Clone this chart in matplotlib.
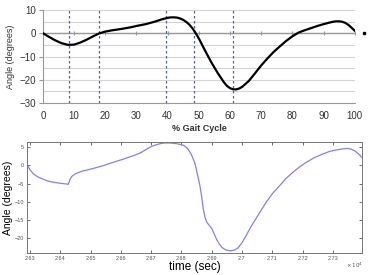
import matplotlib.pyplot as plt
from matplotlib.ticker import FuncFormatter

plt.rcParams['font.family'] = ['Liberation Sans', 'DejaVu Sans']

# top chart: angle over the gait cycle
gait_pct = [0, 2, 4, 6, 8, 10, 12, 14, 16, 18, 20, 22, 25, 28, 30, 33, 36, 38, 40, 41, 42,
            43, 44, 45, 46, 47, 48, 49, 50, 52, 54, 56, 58, 59, 60, 61, 62, 63, 64, 66, 68,
            70, 72, 74, 76, 78, 80, 82, 84, 86, 88, 90, 92, 93, 94, 95, 96, 97, 98, 99, 100]
gait_angle = [0, -1.6, -3.1, -4.3, -5.0, -4.9, -4.0, -2.8, -1.4, -0.1, 0.7, 1.2, 1.8, 2.5,
              3.1, 3.9, 5.0, 5.9, 6.6, 6.8, 6.8, 6.7, 6.3, 5.7, 4.8, 3.6, 2.0, 0.0, -2.3,
              -7.5, -12.5, -17.0, -21.0, -22.6, -23.6, -24.1, -24.1, -23.7, -22.9, -20.5,
              -17.2, -13.8, -10.8, -8.0, -5.6, -3.3, -1.3, 0.3, 1.3, 2.2, 3.1, 3.9, 4.6,
              4.9, 5.1, 5.1, 4.9, 4.4, 3.5, 2.3, 1.0]
event_pct = [8.5, 18, 39.5, 48.5, 61]

# bottom chart: angle over time (sec)
time_s = [26292, 26300, 26311, 26325, 26344, 26360, 26377, 26400, 26421, 26426, 26429,
          26432, 26438, 26449, 26470, 26490, 26509, 26540, 26575, 26610, 26641, 26665,
          26685, 26705, 26729, 26745, 26762, 26785, 26806, 26815, 26822, 26833, 26845,
          26853, 26861, 26867, 26872, 26877, 26883, 26890, 26900, 26908, 26916, 26925,
          26933, 26945, 26960, 26975, 26987, 27000, 27015, 27030, 27048, 27065, 27081,
          27100, 27125, 27145, 27169, 27190, 27213, 27240, 27268, 27290, 27312, 27335,
          27350, 27360, 27373, 27385, 27395]
time_angle = [0, -1.2, -2.3, -3.1, -3.8, -4.3, -4.6, -4.9, -5.1, -5.2, -4.6, -3.8, -3.0,
              -2.3, -1.6, -1.2, -0.8, -0.1, 0.9, 1.8, 2.7, 3.5, 4.5, 5.4, 6.0, 6.2, 6.2,
              6.0, 5.6, 5.1, 4.5, 3.0, 0.5, -2.5, -5.5, -8.7, -11.8, -14.0, -15.5, -16.3,
              -17.3, -18.8, -20.3, -21.6, -22.5, -23.2, -23.5, -23.3, -22.7, -21.3, -19.1,
              -16.8, -14.4, -12.1, -10.0, -7.8, -5.5, -3.6, -1.8, -0.4, 0.9, 2.2, 3.2,
              3.9, 4.3, 4.6, 4.7, 4.5, 4.0, 3.2, 2.3]

fig = plt.figure(figsize=(3.7, 2.75), dpi=100)

# ---- top (excel style) ----
ax1 = fig.add_axes([0.116, 0.625, 0.843, 0.339])
for v in range(-30, 11, 5):
    ax1.axhline(v, color='#d4d4d4', lw=0.8, zorder=0)
ax1.axhline(0, color='#999999', lw=1.0, zorder=1)
ax1.plot(range(10, 101, 10), [0] * 10, '|', color='#999999', ms=3, mew=0.8, zorder=1)
for e in event_pct:
    ax1.axvline(e, color='#5a5ab8', lw=0.9, ls=(0, (2, 2)), zorder=2)
ax1.plot(gait_pct, gait_angle, color='black', lw=1.6, zorder=3)
ax1.plot([102.8], [0], 's', color='black', ms=1.6, clip_on=False)
ax1.set_xlim(0, 100)
ax1.set_ylim(-30, 10)
ax1.set_xticks(range(0, 101, 10))
ax1.set_yticks(range(-30, 11, 10))
for s in ['top', 'right']:
    ax1.spines[s].set_visible(False)
for s in ['left', 'bottom']:
    ax1.spines[s].set_color('#999999')
    ax1.spines[s].set_linewidth(0.8)
ax1.tick_params(axis='x', length=0, labelsize=7, colors='#333333', pad=6)
ax1.tick_params(axis='y', length=3, labelsize=7, colors='#333333', pad=2, color='#999999')
ax1.set_xlabel('% Gait Cycle', fontsize=6.5, fontweight='bold', color='#333333', labelpad=2)
ax1.set_ylabel('Angle (degrees)', fontsize=6.5, color='#333333', labelpad=3)

# ---- bottom (matlab style) ----
ax2 = fig.add_axes([0.073, 0.08, 0.905, 0.404])
ax2.plot(time_s, time_angle, color='#8080ff', lw=0.9)
ax2.set_xlim(26290, 27396)
ax2.set_ylim(-24.1, 6.5)
ax2.set_xticks(range(26300, 27301, 100))
ax2.set_yticks([-20, -15, -10, -5, 0, 5])
ax2.xaxis.set_major_formatter(FuncFormatter(lambda v, p: f'{v / 1e4:g}'))
ax2.tick_params(direction='in', length=2, width=0.6, labelsize=4, top=True, right=True,
                colors='#555555', pad=2)
for s in ax2.spines.values():
    s.set_color('#777777')
    s.set_linewidth(0.7)
ax2.set_xlabel('time (sec)', fontsize=8.5, labelpad=0)
ax2.set_ylabel('Angle (degrees)', fontsize=7.5, labelpad=1)
fig.text(0.935, 0.025, r'$\times\,10^4$', fontsize=4, color='#555555')

fig.savefig('out.png', dpi=100)
